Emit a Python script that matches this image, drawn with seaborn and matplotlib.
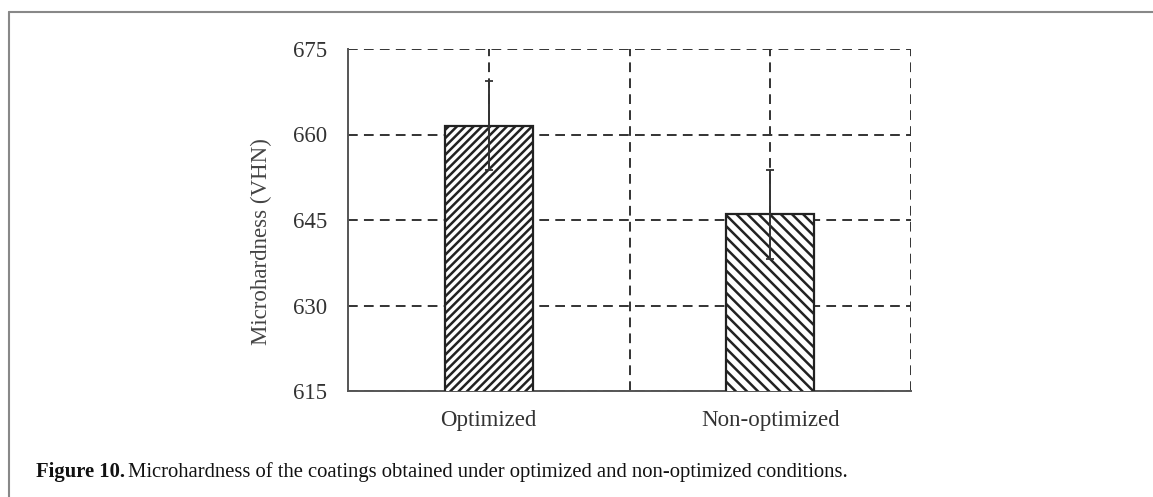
import matplotlib
matplotlib.use("Agg")
import matplotlib.pyplot as plt
import seaborn as sns
import pandas as pd
from matplotlib.lines import Line2D

categories = ["Optimized", "Non-optimized"]
means = [661.5, 646.0]
errors = [7.8, 7.8]
hatches = ["////", "\\\\\\"]
yticks = [615, 630, 645, 660, 675]

sns.set_theme(style="white")
plt.rcParams['font.family'] = ['Liberation Serif', 'DejaVu Serif']
plt.rcParams['hatch.linewidth'] = 1.8
plt.rcParams['hatch.color'] = '#222222'

fig = plt.figure(figsize=(11.53, 4.97), dpi=100)
ax = fig.add_axes([348/1153, 1-391/497, (911-348)/1153, (391-49)/497])

df = pd.DataFrame({"cat": categories, "val": means})
sns.barplot(data=df, x="cat", y="val", ax=ax, color="white", errorbar=None,
            width=0.313, edgecolor="#222222", linewidth=1.6, zorder=3)
for p, h in zip(ax.patches, hatches):
    p.set_hatch(h)
    p.set_facecolor("white")
    p.set_edgecolor("#222222")

ax.errorbar(range(len(categories)), means, yerr=errors, fmt="none",
            ecolor="#333333", elinewidth=1.4, capsize=3, capthick=1.3, zorder=4)

ax.set_xlim(-0.5, 1.5)
ax.set_ylim(615, 675)
ax.set_yticks(yticks)
ax.set_xticks([0, 1])
ax.set_xticks([0.5, 1.5], minor=True)
ax.set_xticklabels(categories)
ax.tick_params(axis="both", which="both", length=0, labelsize=16.5, colors="#333333")
ax.tick_params(axis="y", pad=15)
ax.tick_params(axis="x", pad=14)
ax.set_xlabel("")
ax.set_ylabel("Microhardness (VHN)", fontsize=16.5, color="#444444")
ax.yaxis.set_label_coords((272-348)/563, 1-(242-49)/342)

ax.grid(True, axis="y", which="major", linestyle=(0, (5, 3.2)), color="#333333", linewidth=1.4, zorder=0)
ax.grid(True, axis="x", which="both", linestyle=(0, (5, 3.2)), color="#333333", linewidth=1.4, zorder=0)
ax.set_axisbelow(True)

for side in ["top", "right"]:
    ax.spines[side].set_visible(False)
for side in ["left", "bottom"]:
    ax.spines[side].set_visible(True)
    ax.spines[side].set_color("#555555")
    ax.spines[side].set_linewidth(1.4)

# outer frame lines
fig.add_artist(Line2D([9/1153, 1.0], [1-12/497, 1-12/497], transform=fig.transFigure, color="#888888", linewidth=1.5))
fig.add_artist(Line2D([9/1153, 9/1153], [0.0, 1-12/497], transform=fig.transFigure, color="#888888", linewidth=1.5))

# caption
t1 = fig.text(36/1153, 1-477/497, "Figure 10.", fontsize=14.9, fontweight="bold", color="#111111", va="baseline", ha="left")
fig.canvas.draw()
bb = t1.get_window_extent()
x2 = (bb.x1 + 3) / fig.bbox.width
fig.text(x2, 1-477/497, "Microhardness of the coatings obtained under optimized and non-optimized conditions.",
         fontsize=14.9, color="#111111", va="baseline", ha="left")

fig.savefig("out.png", dpi=100)
